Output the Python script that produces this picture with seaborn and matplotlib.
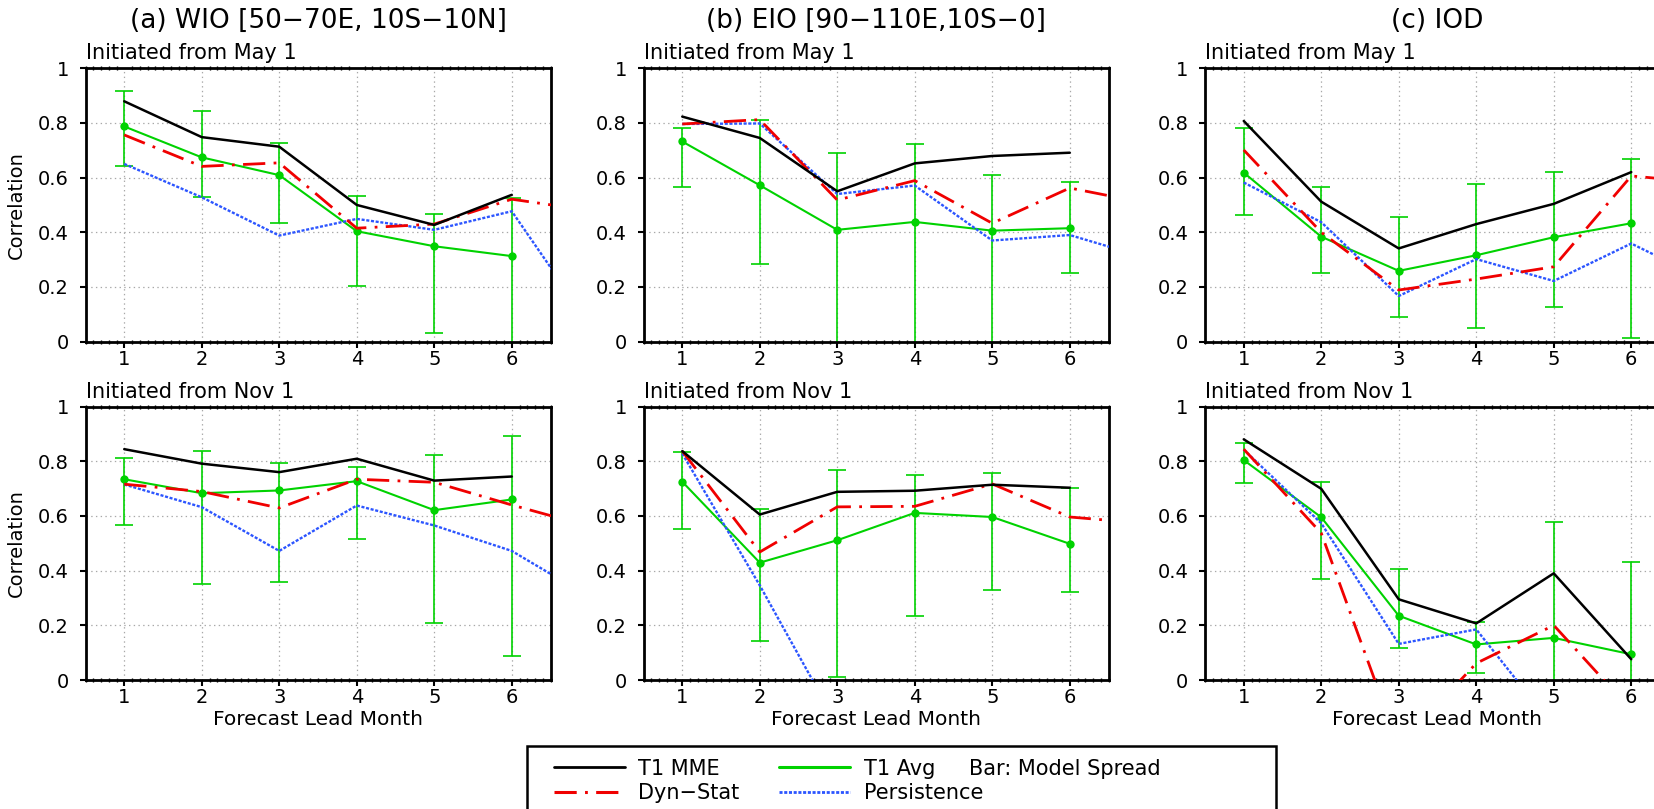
import numpy as np
import seaborn as sns
import matplotlib.pyplot as plt
from matplotlib.lines import Line2D
from matplotlib.patches import Rectangle
from matplotlib.ticker import MultipleLocator

lead = [1, 2, 3, 4, 5, 6]
lead_ext = [1, 2, 3, 4, 5, 6, 7]

titles = ['(a) WIO [50−70E, 10S−10N]', '(b) EIO [90−110E,10S−0]', '(c) IOD']
starts = ['Initiated from May 1', 'Initiated from Nov 1']
yticks = [0, 0.2, 0.4, 0.6, 0.8, 1]
ytick_labels = ['0', '0.2', '0.4', '0.6', '0.8', '1']
legend_labels = ['T1 MME', 'Dyn−Stat', 'T1 Avg', 'Persistence']

# (a) WIO, May 1
wio_may_mme = [0.879, 0.748, 0.713, 0.500, 0.427, 0.537]
wio_may_avg = [0.787, 0.674, 0.609, 0.404, 0.349, 0.313]
wio_may_hi = [0.915, 0.845, 0.726, 0.532, 0.466, 0.525]
wio_may_lo = [0.644, 0.528, 0.435, 0.202, 0.033, -0.05]
wio_may_dyn = [0.756, 0.641, 0.654, 0.415, 0.430, 0.521, 0.480]
wio_may_per = [0.650, 0.528, 0.388, 0.449, 0.409, 0.477, 0.067]

# (b) EIO, May 1
eio_may_mme = [0.823, 0.745, 0.550, 0.652, 0.679, 0.691]
eio_may_avg = [0.732, 0.572, 0.409, 0.438, 0.406, 0.415]
eio_may_hi = [0.780, 0.811, 0.690, 0.723, 0.610, 0.585]
eio_may_lo = [0.566, 0.283, -0.05, -0.05, -0.05, 0.251]
eio_may_dyn = [0.796, 0.812, 0.518, 0.589, 0.433, 0.562, 0.506]
eio_may_per = [0.796, 0.798, 0.540, 0.571, 0.370, 0.390, 0.306]

# (c) IOD, May 1
iod_may_mme = [0.807, 0.512, 0.341, 0.430, 0.504, 0.620]
iod_may_avg = [0.618, 0.384, 0.259, 0.316, 0.382, 0.433]
iod_may_hi = [0.780, 0.565, 0.457, 0.577, 0.620, 0.667]
iod_may_lo = [0.463, 0.252, 0.091, 0.051, 0.126, 0.015]
iod_may_dyn = [0.701, 0.400, 0.189, 0.229, 0.274, 0.606, 0.580]
iod_may_per = [0.582, 0.437, 0.167, 0.302, 0.222, 0.359, 0.220]

# (a) WIO, Nov 1
wio_nov_mme = [0.844, 0.791, 0.760, 0.809, 0.729, 0.744]
wio_nov_avg = [0.734, 0.683, 0.693, 0.727, 0.621, 0.660]
wio_nov_hi = [0.812, 0.838, 0.793, 0.777, 0.822, 0.893]
wio_nov_lo = [0.568, 0.352, 0.360, 0.515, 0.207, 0.088]
wio_nov_dyn = [0.716, 0.689, 0.629, 0.734, 0.723, 0.640, 0.562]
wio_nov_per = [0.715, 0.632, 0.472, 0.638, 0.565, 0.472, 0.304]

# (b) EIO, Nov 1
eio_nov_mme = [0.837, 0.605, 0.688, 0.692, 0.714, 0.703]
eio_nov_avg = [0.725, 0.429, 0.511, 0.611, 0.596, 0.498]
eio_nov_hi = [0.832, 0.624, 0.766, 0.751, 0.758, 0.702]
eio_nov_lo = [0.553, 0.144, 0.010, 0.233, 0.328, 0.323]
eio_nov_dyn = [0.837, 0.468, 0.633, 0.635, 0.717, 0.596, 0.572]
eio_nov_per = [0.828, 0.346, -0.163, -0.15, -0.20, -0.20, -0.25]

# (c) IOD, Nov 1
iod_nov_mme = [0.880, 0.699, 0.295, 0.207, 0.390, 0.076]
iod_nov_avg = [0.804, 0.595, 0.235, 0.130, 0.154, 0.094]
iod_nov_hi = [0.865, 0.725, 0.407, 0.213, 0.577, 0.432]
iod_nov_lo = [0.720, 0.371, 0.118, 0.024, -0.05, -0.05]
iod_nov_dyn = [0.844, 0.537, -0.241, 0.061, 0.200, -0.110, -0.20]
iod_nov_per = [0.842, 0.573, 0.132, 0.185, -0.171, -0.20, -0.25]

panels = [
    (0, 0, wio_may_mme, wio_may_avg, wio_may_lo, wio_may_hi, wio_may_dyn, wio_may_per),
    (0, 1, eio_may_mme, eio_may_avg, eio_may_lo, eio_may_hi, eio_may_dyn, eio_may_per),
    (0, 2, iod_may_mme, iod_may_avg, iod_may_lo, iod_may_hi, iod_may_dyn, iod_may_per),
    (1, 0, wio_nov_mme, wio_nov_avg, wio_nov_lo, wio_nov_hi, wio_nov_dyn, wio_nov_per),
    (1, 1, eio_nov_mme, eio_nov_avg, eio_nov_lo, eio_nov_hi, eio_nov_dyn, eio_nov_per),
    (1, 2, iod_nov_mme, iod_nov_avg, iod_nov_lo, iod_nov_hi, iod_nov_dyn, iod_nov_per),
]

GREEN = '#00d200'
RED = '#f00000'
BLUE = '#2c55ff'
DASHDOT = (0, (16, 6, 2, 6))
DOTTED = (0, (2.2, 1.2))

sns.set_style('white')
plt.rcParams['font.family'] = ['DejaVu Sans']
plt.rcParams['lines.scale_dashes'] = False
for key in ['text.color', 'axes.labelcolor', 'xtick.color', 'ytick.color']:
    plt.rcParams[key] = 'black'

W, H = 1654, 809
fig = plt.figure(figsize=(W / 100, H / 100), dpi=100)

col_left = [85.5, 643.5, 1205]
row_bottom = [341.7, 680]
ax_w, ax_h = 465, 273.5

for row, col, mme, avg, lo, hi, dyn, per in panels:
    ax = fig.add_axes([col_left[col] / W, (H - row_bottom[row]) / H, ax_w / W, ax_h / H])

    yerr = [np.array(avg) - np.array(lo), np.array(hi) - np.array(avg)]
    ax.errorbar(lead, avg, yerr=yerr, fmt='none', ecolor=GREEN, elinewidth=1.2,
                capsize=6.5, capthick=1.2, zorder=2)
    sns.lineplot(x=lead, y=avg, ax=ax, color=GREEN, lw=1.5, marker='o',
                 markersize=6, markeredgewidth=0, zorder=3)
    sns.lineplot(x=lead_ext, y=per, ax=ax, color=BLUE, lw=1.7, linestyle=DOTTED, zorder=4)
    sns.lineplot(x=lead_ext, y=dyn, ax=ax, color=RED, lw=2.0, linestyle=DASHDOT, zorder=5)
    sns.lineplot(x=lead, y=mme, ax=ax, color='black', lw=1.8, zorder=6)

    ax.set_xlim(0.5, 6.5)
    ax.set_ylim(0, 1)
    ax.set_xticks(lead)
    ax.set_xticklabels([str(v) for v in lead])
    ax.set_yticks(yticks)
    ax.set_yticklabels(ytick_labels)
    ax.xaxis.set_minor_locator(MultipleLocator(0.1))
    ax.grid(True, which='major', color='#a8a8a8', linestyle=(0, (1, 2.4)), lw=0.9)
    ax.tick_params(axis='x', which='major', direction='out', length=4, width=1.5,
                   labelsize=14, pad=2, bottom=True)
    ax.tick_params(axis='x', which='minor', direction='inout', length=3, width=1,
                   bottom=True, top=True)
    ax.tick_params(axis='y', which='major', direction='out', length=4, width=1.5,
                   labelsize=14, pad=8, left=True)
    for sp in ax.spines.values():
        sp.set_linewidth(2.0)
        sp.set_color('black')

    ax.text(0, 1 + 9 / ax_h, starts[row], transform=ax.transAxes, ha='left',
            va='baseline', fontsize=15)
    if row == 0:
        ax.text(0.5, 1 + 47 / ax_h, titles[col], transform=ax.transAxes,
                ha='center', va='center', fontsize=19)
    if col == 0:
        ax.set_ylabel('Correlation', fontsize=14)
        ax.yaxis.set_label_coords(-60 / ax_w, 0.5)
    else:
        ax.set_ylabel('')
    if row == 1:
        ax.set_xlabel('Forecast Lead Month', fontsize=14.5)
        ax.xaxis.set_label_coords(0.5, -30 / ax_h)
    else:
        ax.set_xlabel('')

# legend box (runs off the bottom of the figure as in the original)
fig.patches.append(Rectangle((527 / W, -0.1), (1276 - 527) / W, (H - 745.7) / H + 0.1,
                             transform=fig.transFigure, fill=False, edgecolor='black',
                             lw=1.8))
handles = [
    Line2D([], [], color='black', lw=2.0),
    Line2D([], [], color=RED, lw=2.2, linestyle=DASHDOT),
    Line2D([], [], color=GREEN, lw=2.2),
    Line2D([], [], color=BLUE, lw=2.0, linestyle=DOTTED),
]
fig.legend(handles, legend_labels, ncol=2, frameon=False, loc='center left',
           bbox_to_anchor=(554 / W, (H - 781) / H), borderpad=0, borderaxespad=0,
           handlelength=3.4, handletextpad=0.65, columnspacing=1.9,
           labelspacing=0.22, fontsize=15)
fig.text(969 / W, (H - 769) / H, 'Bar: Model Spread', ha='left', va='center', fontsize=15)

fig.savefig('out.png', dpi=100)
